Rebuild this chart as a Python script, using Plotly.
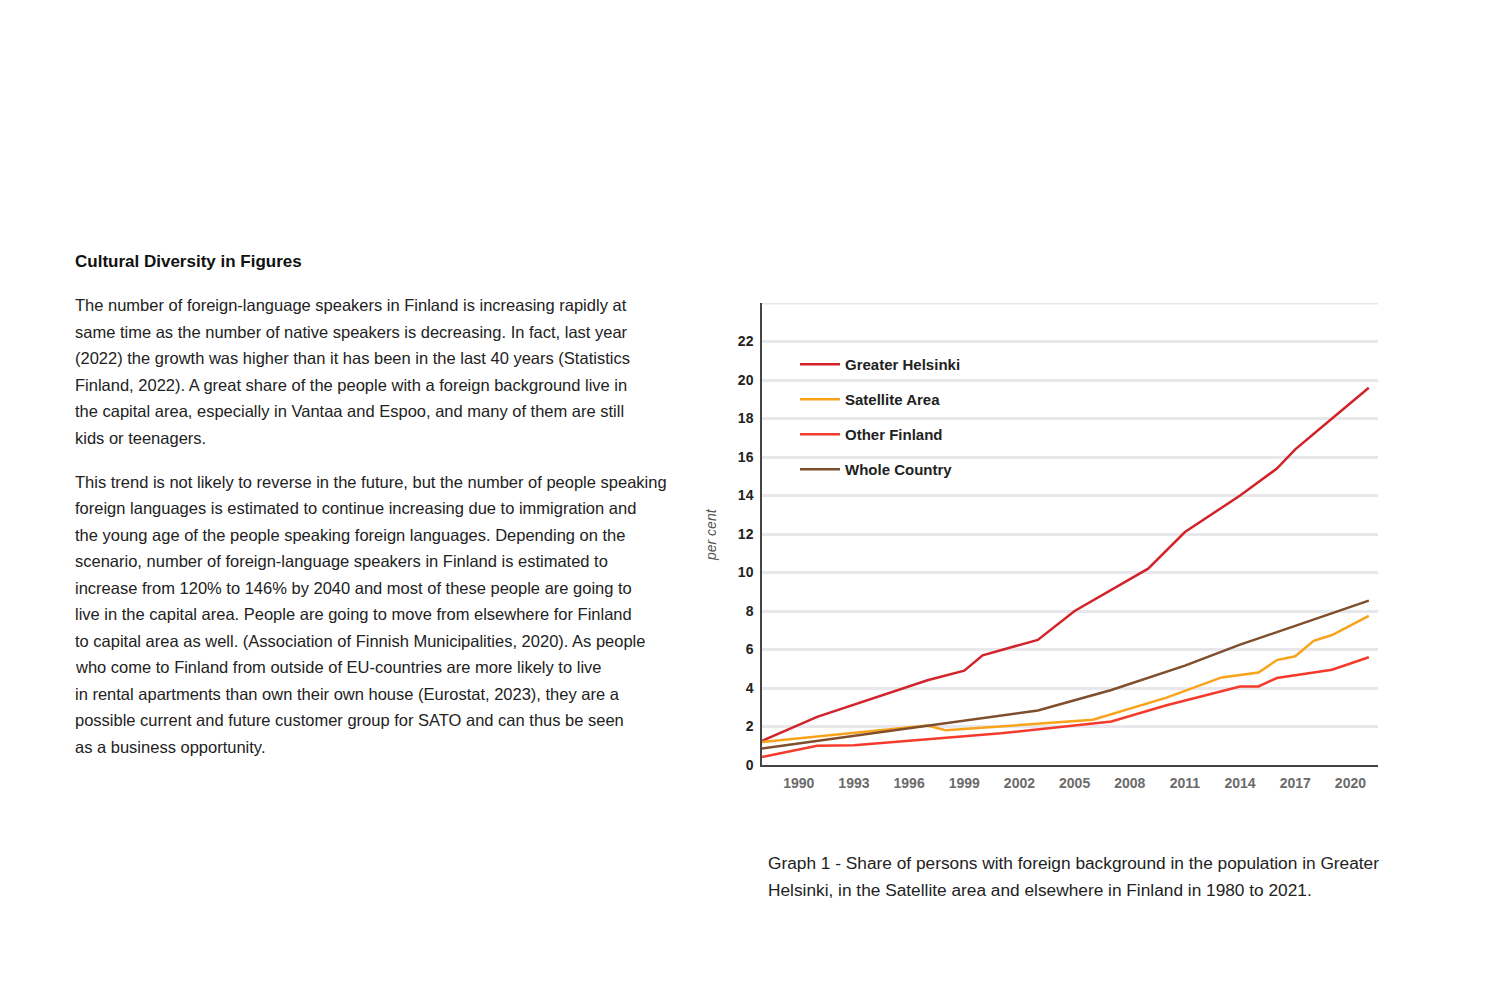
import plotly.graph_objects as go

# ---------------- data ----------------
gh_years = [1988, 1991, 1997, 1999, 2000, 2003, 2005, 2009, 2011, 2014, 2016, 2017, 2019, 2021]
gh_vals = [1.25, 2.5, 4.4, 4.9, 5.7, 6.5, 8.0, 10.2, 12.1, 14.0, 15.4, 16.4, 18.0, 19.6]

sat_years = [1988, 1997, 1998, 2006, 2010, 2013, 2015, 2016, 2017, 2018, 2019, 2021]
sat_vals = [1.2, 2.05, 1.8, 2.35, 3.5, 4.55, 4.8, 5.45, 5.65, 6.45, 6.75, 7.75]

oth_years = [1988, 1991, 1993, 2001, 2007, 2010, 2014, 2015, 2016, 2019, 2021]
oth_vals = [0.42, 1.0, 1.03, 1.65, 2.26, 3.1, 4.08, 4.08, 4.52, 4.95, 5.6]

wc_years = [1988, 1997, 2003, 2007, 2011, 2014, 2021]
wc_vals = [0.86, 2.05, 2.83, 3.9, 5.16, 6.25, 8.54]

series_names = ["Greater Helsinki", "Satellite Area", "Other Finland", "Whole Country"]
series_colors = ["#d2232a", "#f9a31b", "#f53a2c", "#7e4e2d"]

x_ticks = [1990, 1993, 1996, 1999, 2002, 2005, 2008, 2011, 2014, 2017, 2020]
y_ticks = [0, 2, 4, 6, 8, 10, 12, 14, 16, 18, 20, 22]

title_text = "Cultural Diversity in Figures"
para1 = [
    "The number of foreign-language speakers in Finland is increasing rapidly at",
    "same time as the number of native speakers is decreasing. In fact, last year",
    "(2022) the growth was higher than it has been in the last 40 years (Statistics",
    "Finland, 2022). A great share of the people with a foreign background live in",
    "the capital area, especially in Vantaa and Espoo, and many of them are still",
    "kids or teenagers.",
]
para2 = [
    "This trend is not likely to reverse in the future, but the number of people speaking",
    "foreign languages is estimated to continue increasing due to immigration and",
    "the young age of the people speaking foreign languages. Depending on the",
    "scenario, number of foreign-language speakers in Finland is estimated to",
    "increase from 120% to 146% by 2040 and most of these people are going to",
    "live in the capital area. People are going to move from elsewhere for Finland",
    "to capital area as well. (Association of Finnish Municipalities, 2020). As people",
    "who come to Finland from outside of EU-countries are more likely to live",
    "in rental apartments than own their own house (Eurostat, 2023), they are a",
    "possible current and future customer group for SATO and can thus be seen",
    "as a business opportunity.",
]
caption = [
    "Graph 1 - Share of persons with foreign background in the population in Greater",
    "Helsinki, in the Satellite area and elsewhere in Finland in 1980 to 2021.",
]

# ---------------- layout geometry ----------------
W, H = 1500, 1003
OFF = 8  # page body margin
PL, PR, PT, PB = 762 - OFF, 1378 - OFF, 303 - OFF, 765 - OFF  # plot area in figure pixels


def px_x(px):  # page pixel -> paper x
    return (px - OFF - PL) / (PR - PL)


def px_y(py):  # page pixel -> paper y
    return (PB - (py - OFF)) / (PB - PT)


fig = go.Figure()
all_series = [(gh_years, gh_vals), (sat_years, sat_vals), (oth_years, oth_vals), (wc_years, wc_vals)]
for (xs, ys), name, col in zip(all_series, series_names, series_colors):
    fig.add_trace(go.Scatter(x=xs, y=ys, mode="lines", name=name, legendgroup=name,
                             line=dict(color=col, width=2.5)))

TXT = "Liberation Sans, Arial, sans-serif"
annotations = []
annotations.append(dict(text=title_text, x=px_x(73), y=px_y(261), xref="paper", yref="paper",
                        xanchor="left", yanchor="middle", showarrow=False,
                        font=dict(family=TXT, size=17, color="#111", weight="bold")))
for k, line in enumerate(para1):
    annotations.append(dict(text=line, x=px_x(73), y=px_y(305 + k * 26.6), xref="paper", yref="paper",
                            xanchor="left", yanchor="middle", showarrow=False,
                            font=dict(family=TXT, size=16.5, color="#222")))
for k, line in enumerate(para2):
    annotations.append(dict(text=line, x=px_x(73), y=px_y(482 + k * 26.45), xref="paper", yref="paper",
                            xanchor="left", yanchor="middle", showarrow=False,
                            font=dict(family=TXT, size=16.5, color="#222")))
for k, line in enumerate(caption):
    annotations.append(dict(text=line, x=px_x(766), y=px_y(863 + k * 26.5), xref="paper", yref="paper",
                            xanchor="left", yanchor="middle", showarrow=False,
                            font=dict(family=TXT, size=17.3, color="#222")))
annotations.append(dict(text="<i>per cent</i>", x=px_x(711), y=px_y(535), xref="paper", yref="paper",
                        xanchor="center", yanchor="middle", showarrow=False, textangle=-90,
                        font=dict(family=TXT, size=14, color="#555")))

fig.update_layout(
    width=W, height=H,
    margin=dict(l=PL, r=W - PR, t=PT, b=H - PB, pad=0),
    paper_bgcolor="white", plot_bgcolor="white",
    showlegend=True,
    legend=dict(x=px_x(795), y=px_y(348), xanchor="left", yanchor="top",
                bgcolor="rgba(0,0,0,0)", tracegroupgap=12.5, itemwidth=40,
                font=dict(family=TXT, size=15, color="#222", weight="bold")),
    annotations=annotations,
    xaxis=dict(range=[1988, 2021.5], tickvals=x_ticks, ticktext=[str(v) for v in x_ticks],
               showgrid=False, zeroline=False, showline=True, linecolor="#444", linewidth=1.5,
               ticks="", ticklabelstandoff=4,
               tickfont=dict(family=TXT, size=14, color="#6b6b6b", weight="bold")),
    yaxis=dict(range=[0, 24], tickmode="array", tickvals=y_ticks, ticktext=[str(v) for v in y_ticks],
               showgrid=True, gridcolor="#e8e8ec", gridwidth=3, zeroline=False,
               showline=True, linecolor="#444", linewidth=1.5, ticks="", ticklabelstandoff=4,
               tickfont=dict(family=TXT, size=14, color="#222", weight="bold")),
)
# top gridline at 24
fig.add_shape(type="line", xref="paper", yref="y", x0=0, x1=1, y0=24, y1=24,
              line=dict(color="#e8e8ec", width=3), layer="below")

fig.write_html("out.html")
